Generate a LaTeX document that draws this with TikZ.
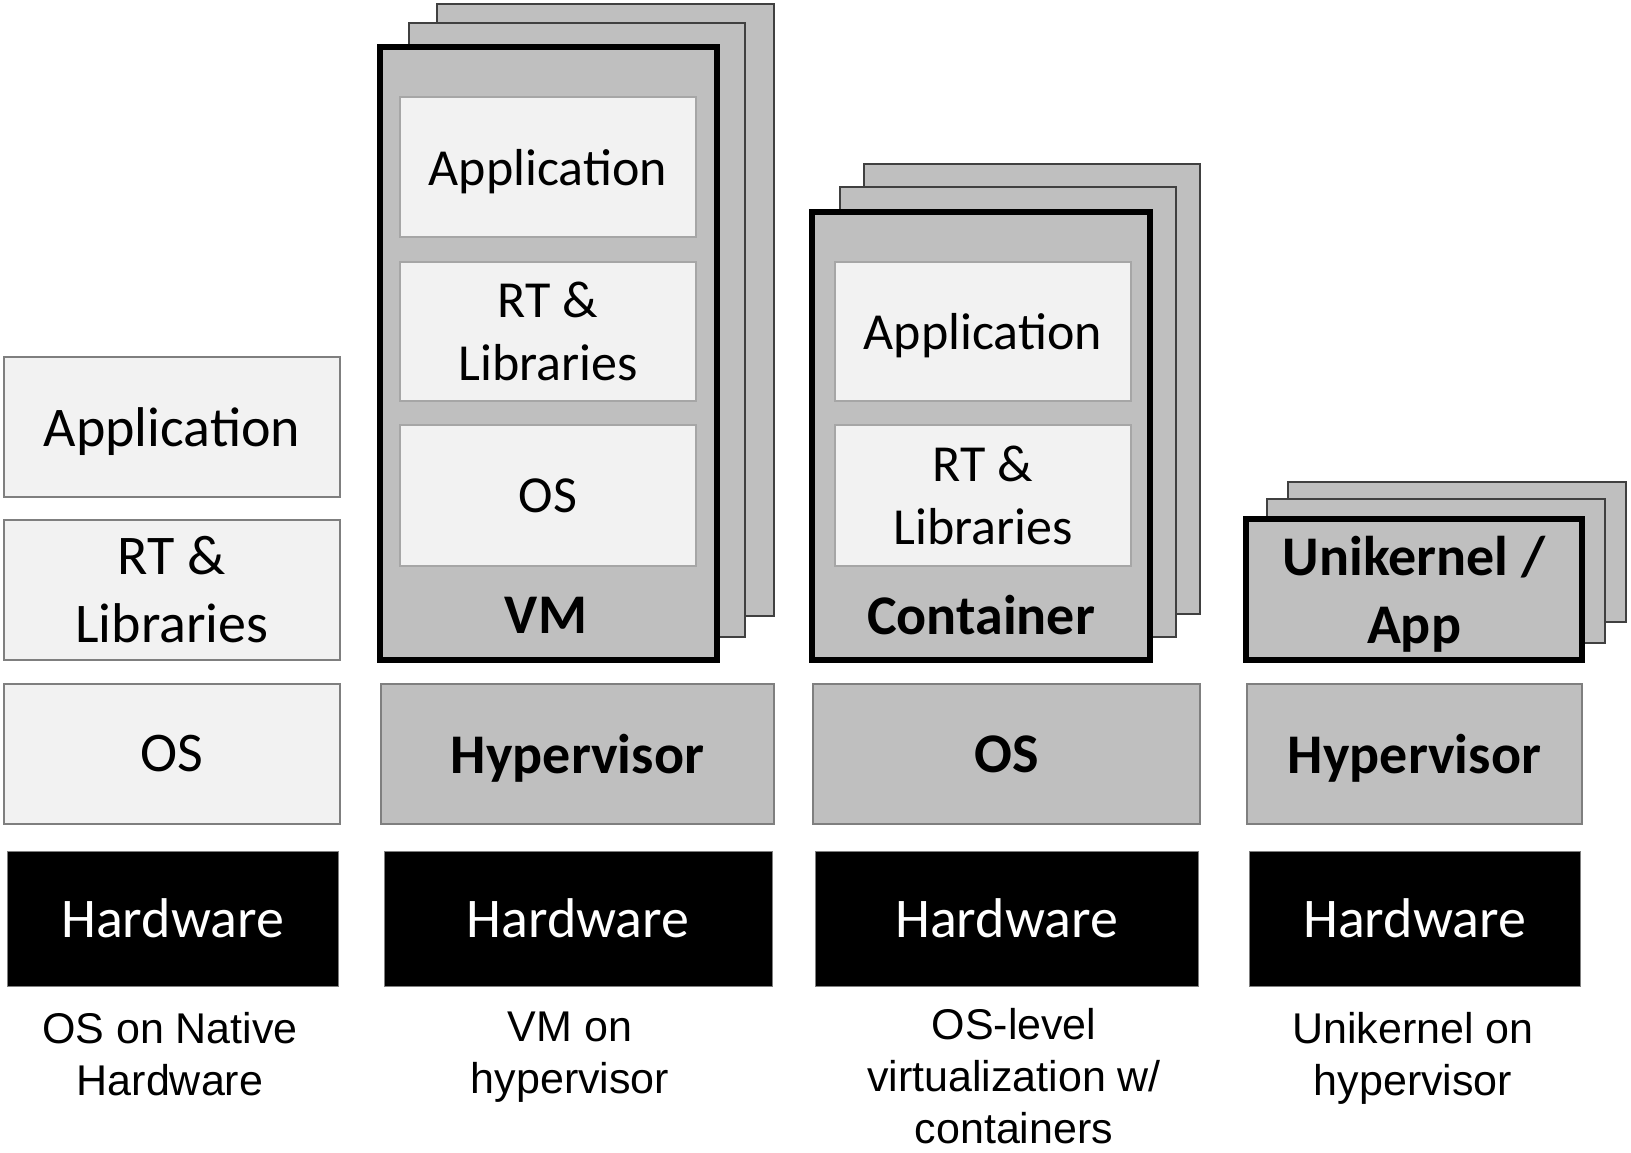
\documentclass[tikz,border=0pt]{standalone}
\usepackage{fontspec}
\setmainfont{Carlito}
\newfontfamily\capfont{Liberation Sans}
\definecolor{lightfill}{HTML}{F2F2F2}
\definecolor{darkfill}{HTML}{BFBFBF}
\definecolor{edgegray}{HTML}{7F7F7F}
\definecolor{inneredge}{HTML}{A6A6A6}
\definecolor{backedge}{HTML}{404040}
\newcommand\mkbox[7]{\node[#2, minimum width={(#5-#3)*0.5pt}, minimum height={(#6-#4)*0.5pt}] (#1) at ({(#3+#5)/2},{(#4+#6)/2}) {#7};}
\tikzset{
  every node/.style={inner sep=0pt, outer sep=0pt, align=center},
  bigtxt/.style={font=\fontsize{28}{34}\selectfont},
  smalltxt/.style={font=\fontsize{26}{31.5}\selectfont},
  boldtxt/.style={font=\fontsize{28}{34}\selectfont\bfseries},
  nodesc/.style={text depth=0pt},
  lightbox/.style={rectangle, fill=lightfill, draw=edgegray, line width=0.75pt, bigtxt},
  innerbox/.style={rectangle, fill=lightfill, draw=inneredge, line width=1pt, smalltxt},
  darkbox/.style={rectangle, fill=darkfill, draw=edgegray, line width=0.75pt, boldtxt},
  backbox/.style={rectangle, fill=darkfill, draw=backedge, line width=0.75pt},
  framebox/.style={rectangle, fill=darkfill, draw=black, line width=3pt, boldtxt},
  hwbox/.style={rectangle, fill=black, draw=edgegray, line width=0.5pt, text=white, bigtxt},
  captxt/.style={font=\capfont\fontsize{21.5}{26}\selectfont, anchor=north},
}
\begin{document}
\begin{tikzpicture}[x=0.5pt, y=-0.5pt]
\useasboundingbox[fill=white] (0,0) rectangle (1631,1152);
% Column 1: OS on native hardware
\mkbox{app1}{lightbox,nodesc}{4}{357}{340}{497}{Application}
\mkbox{rt1}{lightbox}{4}{520}{340}{660}{RT \&\\Libraries}
\mkbox{os1}{lightbox}{4}{684}{340}{824}{OS}
\mkbox{hw1}{hwbox}{7}{851}{338}{986}{Hardware}
\node[captxt] (cap1) at (170,1012) {OS on Native\\Hardware};
% Column 2: VM on hypervisor
\mkbox{vmb3}{backbox}{437}{4}{774}{616}{}
\mkbox{vmb2}{backbox}{409}{23}{745}{637}{}
\mkbox{vm}{framebox}{380}{47}{717}{660}{}
\mkbox{vmapp}{innerbox,nodesc}{400}{97}{696}{237}{Application}
\mkbox{vmrt}{innerbox}{400}{262}{696}{401}{RT \&\\Libraries}
\mkbox{vmos}{innerbox}{400}{425}{696}{566}{OS}
\node[boldtxt] (vmlbl) at (546,615) {VM};
\mkbox{hyp2}{darkbox,nodesc}{381}{684}{774}{824}{Hypervisor}
\mkbox{hw2}{hwbox}{384}{851}{772}{986}{Hardware}
\node[captxt] (cap2) at (570,1012) {VM on\\hypervisor};
% Column 3: containers
\mkbox{cb3}{backbox}{864}{164}{1200}{614}{}
\mkbox{cb2}{backbox}{840}{187}{1176}{637}{}
\mkbox{ct}{framebox}{812}{212}{1150}{660}{}
\mkbox{ctapp}{innerbox,nodesc}{835}{262}{1131}{401}{Application}
\mkbox{ctrt}{innerbox}{835}{425}{1131}{566}{RT \&\\Libraries}
\node[boldtxt] (ctlbl) at (981,615) {Container};
\mkbox{os3}{darkbox}{813}{684}{1200}{824}{OS}
\mkbox{hw3}{hwbox}{815}{851}{1198}{986}{Hardware}
\node[captxt] (cap3) at (1014,1008) {OS-level\\virtualization w/\\containers};
% Column 4: unikernel
\mkbox{ub3}{backbox}{1288}{482}{1626}{622}{}
\mkbox{ub2}{backbox}{1267}{499}{1605}{643}{}
\mkbox{uk}{framebox,nodesc}{1246}{519}{1582}{660}{Unikernel /\\App}
\mkbox{hyp4}{darkbox,nodesc}{1247}{684}{1582}{824}{Hypervisor}
\mkbox{hw4}{hwbox}{1249}{851}{1580}{986}{Hardware}
\node[captxt] (cap4) at (1413,1012) {Unikernel on\\hypervisor};
\end{tikzpicture}
\end{document}
